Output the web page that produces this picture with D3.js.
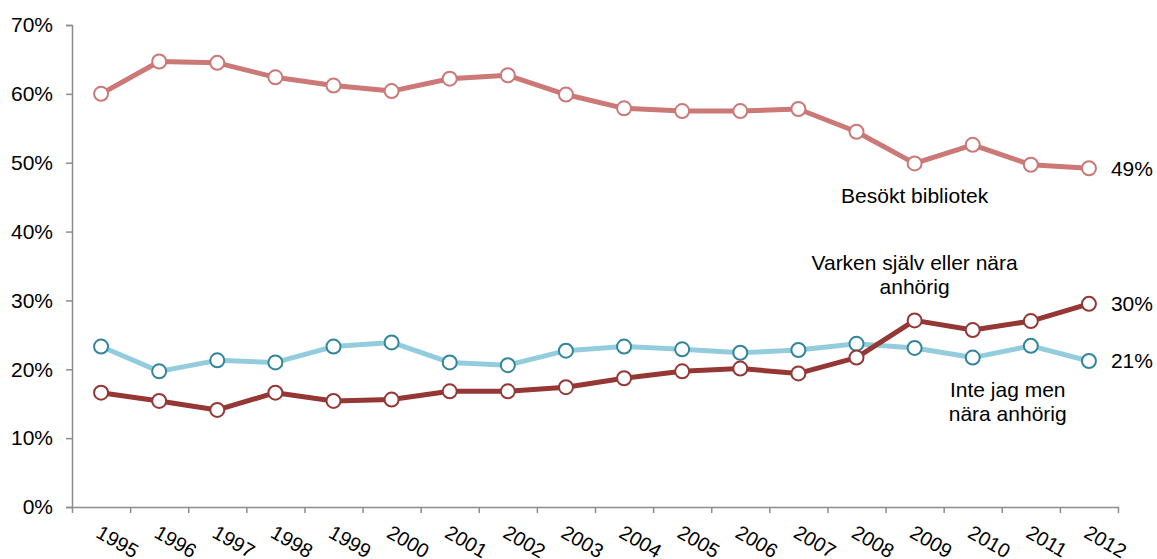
<!DOCTYPE html>
<html>
<head>
<meta charset="utf-8">
<script src="https://cdn.jsdelivr.net/npm/d3@7"></script>
<style>
  body { margin: 0; background: #fff; }
  text { font-family: "Liberation Sans", Arial, sans-serif; fill: #000; }
</style>
</head>
<body>
<svg id="frame"></svg>
<script>
// data
const years = ['1995','1996','1997','1998','1999','2000','2001','2002','2003',
  '2004','2005','2006','2007','2008','2009','2010','2011','2012'];
const besokt = [60.0, 64.7, 64.5, 62.4, 61.2, 60.4, 62.2, 62.7, 59.9,
  57.9, 57.5, 57.5, 57.8, 54.5, 49.9, 52.6, 49.7, 49.2];
const inteJag = [23.3, 19.7, 21.3, 21.0, 23.3, 23.9, 21.0, 20.6, 22.7,
  23.3, 22.9, 22.4, 22.8, 23.7, 23.1, 21.7, 23.4, 21.2];
const varken = [16.6, 15.4, 14.1, 16.6, 15.4, 15.6, 16.8, 16.8, 17.4,
  18.7, 19.7, 20.1, 19.4, 21.7, 27.1, 25.7, 27.0, 29.5];
const yTicks = [0, 10, 20, 30, 40, 50, 60, 70];

const width = 1157;
const height = 559;
const margin = {left: 72, right: 39, top: 25, bottom: 52};
const innerWidth = width - margin.left - margin.right;
const innerHeight = height - margin.top - margin.bottom;

const svg = d3.select('#frame')
  .attr('width', width)
  .attr('height', height);

const g = svg.append('g').attr('transform', `translate(${margin.left},${margin.top})`);

const xScale = d3.scaleBand().domain(years).range([0, innerWidth]);
const edge = d3.scaleLinear().domain([0, years.length]).range([0, innerWidth]);
const yScale = d3.scaleLinear().domain([0, 70]).range([innerHeight, 0]);

// axes
const yaxis = d3.axisLeft(yScale)
  .tickValues(yTicks)
  .tickFormat(d => d + '%')
  .tickSize(6)
  .tickPadding(13);
const xaxis = d3.axisBottom(edge)
  .tickValues(d3.range(years.length + 1))
  .tickFormat('')
  .tickSize(6)
  .tickSizeOuter(0);

const ya = g.append('g').call(yaxis);
ya.selectAll('text').style('font-size', '21px');
const xa = g.append('g').attr('transform', `translate(0,${innerHeight})`).call(xaxis);
[ya, xa].forEach(a => {
  a.select('.domain').attr('stroke', '#8c8c8c').attr('stroke-width', 1.5);
  a.selectAll('.tick line').attr('stroke', '#8c8c8c').attr('stroke-width', 1.5);
});

// rotated year labels
g.selectAll('.year').data(years).enter()
  .append('text')
  .attr('class', 'year')
  .attr('transform', d => `translate(${xScale(d) + xScale.bandwidth() / 2 + 1},${innerHeight + 17}) rotate(30)`)
  .attr('dy', '0.72em')
  .style('font-size', '20px')
  .text(d => d);

// series
const series = [
  {values: besokt, line: '#cb7876', marker: '#cb7876'},
  {values: inteJag, line: '#93cddd', marker: '#31859c'},
  {values: varken, line: '#953735', marker: '#953735'}
];

const line = d3.line()
  .x((d, i) => xScale(years[i]) + xScale.bandwidth() / 2)
  .y(d => yScale(d));

series.forEach(s => {
  g.append('path')
    .datum(s.values)
    .attr('fill', 'none')
    .attr('stroke', s.line)
    .attr('stroke-width', 5)
    .attr('stroke-linejoin', 'round')
    .attr('d', line);
  g.append('g').selectAll('circle').data(s.values).enter()
    .append('circle')
    .attr('cx', (d, i) => xScale(years[i]) + xScale.bandwidth() / 2)
    .attr('cy', d => yScale(d))
    .attr('r', 7)
    .attr('fill', '#fff')
    .attr('stroke', s.marker)
    .attr('stroke-width', 2);
});

// end values
const last = years[years.length - 1];
const endX = xScale(last) + xScale.bandwidth() / 2 + 22;
[besokt, varken, inteJag].forEach(v => {
  g.append('text')
    .attr('x', endX)
    .attr('y', yScale(v[v.length - 1]))
    .attr('dy', '0.35em')
    .style('font-size', '21px')
    .text(Math.round(v[v.length - 1]) + '%');
});

// series labels
const labels = [
  {lines: ['Besökt bibliotek'], year: '2009', dx: 0, value: 44.1},
  {lines: ['Varken själv eller nära', 'anhörig'], year: '2009', dx: 0, value: 34.4},
  {lines: ['Inte jag men', 'nära anhörig'], year: '2010', dx: 35, value: 16.0}
];
labels.forEach(l => {
  const t = g.append('text')
    .attr('text-anchor', 'middle')
    .style('font-size', '21px');
  l.lines.forEach((s, i) => {
    t.append('tspan')
      .attr('x', xScale(l.year) + xScale.bandwidth() / 2 + l.dx)
      .attr('y', yScale(l.value) + i * 24)
      .text(s);
  });
});
</script>
</body>
</html>
